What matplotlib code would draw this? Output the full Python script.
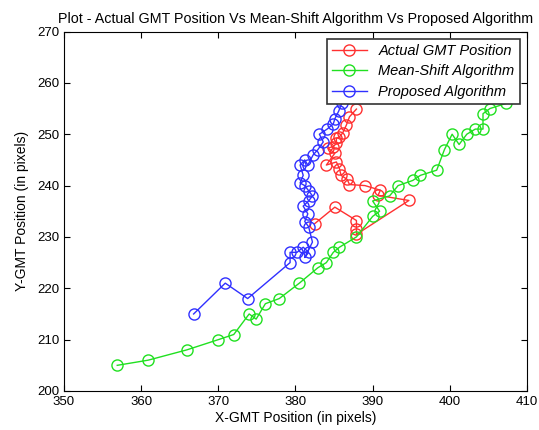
import matplotlib
matplotlib.use('Agg')
import matplotlib.pyplot as plt

plt.rcParams['font.family'] = ['Liberation Sans', 'DejaVu Sans']

# Actual GMT position (red)
actual_x = [382.5, 385.1, 387.9, 387.9, 387.9, 394.7, 390.7, 391.0, 389.0, 387.0,
            386.7, 385.9, 385.7, 385.3, 384.0, 385.1, 384.2, 384.9, 385.3, 385.3,
            385.7, 386.1, 386.6, 387.0, 387.9]
actual_y = [232.6, 235.8, 233.2, 231.6, 230.5, 237.1, 238.1, 239.1, 240.0, 240.2,
            241.2, 242.0, 243.3, 244.6, 244.0, 246.3, 247.3, 247.6, 248.2, 249.2,
            249.5, 250.2, 251.8, 253.4, 254.9]

# Mean-shift algorithm (green)
mean_x = [356.9, 360.9, 365.9, 370.0, 372.0, 374.0, 374.9, 376.1, 377.9, 380.5,
          382.9, 384.0, 384.9, 385.7, 387.9, 390.0, 390.9, 390.0, 392.2, 393.3,
          395.2, 396.2, 398.3, 399.3, 400.3, 401.2, 402.2, 403.3, 404.3, 404.3,
          405.2, 407.3]
mean_y = [205, 206, 208, 210, 211, 215, 214, 217, 218, 221,
          224, 225, 227, 228, 230, 234, 235, 237, 238, 240,
          241, 242, 243, 247, 250, 248, 250, 251, 251, 254,
          255, 256]

# Proposed algorithm (blue)
prop_x = [366.8, 370.9, 373.8, 379.3, 379.3, 380.2, 381.0, 381.7, 381.2, 382.2,
          381.7, 381.2, 381.6, 381.0, 381.7, 382.2, 381.7, 381.2, 380.6, 381.0,
          380.6, 381.2, 381.6, 382.3, 382.9, 383.6, 383.1, 384.1, 384.9, 385.1,
          385.6, 386.0]
prop_y = [215, 221, 218, 225, 227, 227, 228, 227, 226, 229,
          232, 233, 234.5, 236, 237, 238, 239, 240, 240.5, 242,
          244, 245, 244, 246, 247, 248.5, 250, 251, 252, 253,
          254.5, 256]

fig = plt.figure(figsize=(5.39, 4.30), dpi=100)
ax = fig.add_axes([0.1187, 0.0907, 0.859, 0.836])

ax.plot(actual_x, actual_y, '-o', color='#ff3030', lw=1, ms=8, mfc='none', mew=1,
        label='Actual GMT Position')
ax.plot(mean_x, mean_y, '-o', color='#20e020', lw=1, ms=8, mfc='none', mew=1,
        label='Mean-Shift Algorithm')
ax.plot(prop_x, prop_y, '-o', color='#3030ff', lw=1, ms=8, mfc='none', mew=1,
        label='Proposed Algorithm')

ax.set_xlim(350, 410)
ax.set_ylim(200, 270)
ax.set_xticks(range(350, 411, 10))
ax.set_yticks(range(200, 271, 10))
ax.tick_params(direction='in', top=True, right=True, length=4, labelsize=9.5)

ax.set_title('Plot - Actual GMT Position Vs Mean-Shift Algorithm Vs Proposed Algorithm',
             fontsize=10.3, pad=6)
ax.set_xlabel('X-GMT Position (in pixels)', fontsize=10, labelpad=2)
ax.set_ylabel('Y-GMT Position (in pixels)', fontsize=10, labelpad=6)

leg = ax.legend(loc='upper right', fancybox=False, framealpha=1, edgecolor='#333333',
                prop={'style': 'italic', 'size': 10.5}, borderaxespad=0.5,
                handlelength=2.4, labelspacing=0.45, borderpad=0.35)
leg.get_frame().set_linewidth(1.2)

fig.savefig('out.png', dpi=100)
